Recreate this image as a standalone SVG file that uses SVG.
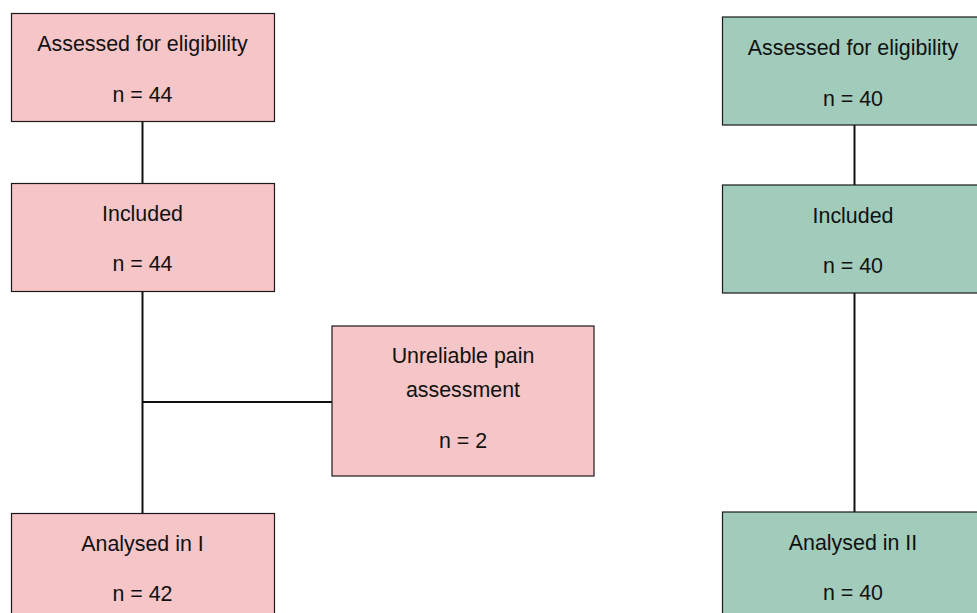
<svg xmlns="http://www.w3.org/2000/svg" width="977" height="613" viewBox="0 0 977 613">
<style>
.pink{fill:#f5c5c7;stroke:#1a1a1a;stroke-width:1.2}
.green{fill:#a1cbba;stroke:#1a1a1a;stroke-width:1.2}
text{font-family:"Liberation Sans",Arial,sans-serif;font-size:21.4px;fill:#111;text-anchor:middle}
.conn{stroke:#111;stroke-width:2;fill:none}
</style>
<rect width="977" height="613" fill="#fff"/>
<g id="connectors">
<line class="conn" x1="142.5" y1="121" x2="142.5" y2="183"/>
<line class="conn" x1="142.5" y1="291" x2="142.5" y2="513"/>
<line class="conn" x1="142.5" y1="402" x2="332" y2="402"/>
<line class="conn" x1="854.5" y1="125" x2="854.5" y2="185"/>
<line class="conn" x1="854.5" y1="293" x2="854.5" y2="512"/>
</g>
<g id="a1"><rect class="pink" x="11.5" y="13.5" width="263" height="108"/>
<text x="142.5" y="51">Assessed for eligibility</text><text x="142.5" y="102">n = 44</text></g>
<g id="a2"><rect class="pink" x="11.5" y="183.5" width="263" height="108"/>
<text x="142.5" y="221">Included</text><text x="142.5" y="271">n = 44</text></g>
<g id="a3"><rect class="pink" x="332" y="326" width="262" height="150"/>
<text x="463" y="363">Unreliable pain</text><text x="463" y="397">assessment</text><text x="463" y="448">n = 2</text></g>
<g id="a4"><rect class="pink" x="11.5" y="513.5" width="263" height="108"/>
<text x="142.5" y="551">Analysed in I</text><text x="142.5" y="601">n = 42</text></g>
<g id="b1"><rect class="green" x="722.5" y="17" width="263" height="108"/>
<text x="853" y="55">Assessed for eligibility</text><text x="853" y="106">n = 40</text></g>
<g id="b2"><rect class="green" x="722.5" y="185" width="263" height="108"/>
<text x="853" y="223">Included</text><text x="853" y="273">n = 40</text></g>
<g id="b3"><rect class="green" x="722.5" y="512" width="263" height="108"/>
<text x="853" y="550">Analysed in II</text><text x="853" y="600">n = 40</text></g>
</svg>
